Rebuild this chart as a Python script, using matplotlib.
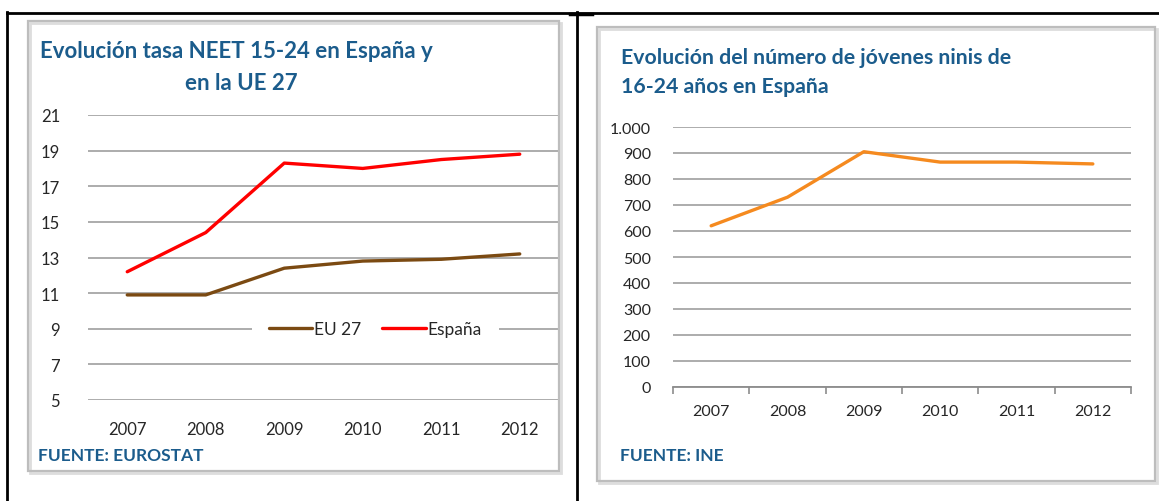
import matplotlib.pyplot as plt
import matplotlib.patches as mpatches
from matplotlib.lines import Line2D
from matplotlib.ticker import FuncFormatter

plt.rcParams['font.family'] = ['Lato', 'DejaVu Sans']

years = ['2007', '2008', '2009', '2010', '2011', '2012']
eu27 = [10.9, 10.9, 12.4, 12.8, 12.9, 13.2]
espana = [12.2, 14.4, 18.3, 18.0, 18.5, 18.8]
ninis = [620, 730, 905, 865, 865, 858]

W, H = 1159, 502
title_col = '#1B5C8C'
text_col = '#262626'
grid_col = '#A6A6A6'

fig = plt.figure(figsize=(W / 100, H / 100), dpi=100)


def px_axes(x0, y0, x1, y1):
    # pixel box (top-left origin) -> figure axes
    return fig.add_axes([x0 / W, 1 - y1 / H, (x1 - x0) / W, (y1 - y0) / H])


def box(x0, y0, x1, y1):
    fig.patches.append(mpatches.Rectangle((x0 / W + 0.002, 1 - y1 / H - 0.004), (x1 - x0) / W, (y1 - y0) / H,
                                          transform=fig.transFigure, fill=False, ec='#DDDDDD', lw=2))
    fig.patches.append(mpatches.Rectangle((x0 / W, 1 - y1 / H), (x1 - x0) / W, (y1 - y0) / H,
                                          transform=fig.transFigure, fill=False, ec='#BDBDBD', lw=1.6))


def fline(xs, ys, lw=2):
    fig.add_artist(Line2D([x / W for x in xs], [1 - y / H for y in ys], color='black', lw=lw,
                          transform=fig.transFigure))


# table borders
fline([7, W], [13.5, 13.5])
fline([7, 7], [13, H])
fline([577, 577], [13, H])
fline([570, 592], [14.5, 14.5], lw=2.5)

box(28, 22, 559, 472)
box(597, 28, 1155, 482)

# ---- left chart ----
ax1 = px_axes(88, 116, 559, 401)
x = range(len(years))
ax1.plot(x, eu27, color='#7B4A12', lw=2.4, label='EU 27', solid_capstyle='round')
ax1.plot(x, espana, color='#FF0000', lw=2.4, label='España', solid_capstyle='round')
ax1.set_xlim(-0.5, 5.5)
ax1.set_ylim(5, 21)
ax1.set_yticks(range(5, 22, 2))
ax1.set_xticks(list(x))
ax1.set_xticklabels(years)
ax1.grid(axis='y', color=grid_col, lw=1.3)
ax1.set_axisbelow(True)
for s in ax1.spines.values():
    s.set_visible(False)
ax1.tick_params(length=0, labelsize=12, colors=text_col)
ax1.tick_params(axis='y', pad=20)
ax1.tick_params(axis='x', pad=15)
leg = ax1.legend(ncol=2, loc='center', bbox_to_anchor=(0.61, 0.249), frameon=True, fontsize=12.5,
                 handlelength=2.5, handletextpad=0.1, columnspacing=1.2, borderpad=1.0)
leg.get_frame().set_facecolor('white')
leg.get_frame().set_edgecolor('none')
leg.get_frame().set_alpha(1)
for t in leg.get_texts():
    t.set_color(text_col)

fig.text(40 / W, 1 - 52 / H, 'Evolución tasa NEET 15-24 en España y', fontsize=16, fontweight='bold',
         color=title_col, va='center', ha='left')
fig.text(241 / W, 1 - 84 / H, 'en la UE 27', fontsize=16, fontweight='bold',
         color=title_col, va='center', ha='center')
fig.text(38 / W, 1 - 456 / H, 'FUENTE: EUROSTAT', fontsize=12.5, fontweight='bold',
         color=title_col, va='center', ha='left')

# ---- right chart ----
ax2 = px_axes(673, 128, 1131, 388)
ax2.plot(x, ninis, color='#F58A1F', lw=2.4, solid_capstyle='round')
ax2.set_xlim(-0.5, 5.5)
ax2.set_ylim(0, 1000)
ax2.set_yticks(range(0, 1001, 100))
ax2.yaxis.set_major_formatter(FuncFormatter(lambda v, p: f'{int(v):,}'.replace(',', '.')))
ax2.set_xticks(list(x))
ax2.set_xticklabels(years)
ax2.set_xticks([i - 0.5 for i in range(7)], minor=True)
ax2.grid(axis='y', color=grid_col, lw=1.3)
ax2.set_axisbelow(True)
for k in ['top', 'right', 'left']:
    ax2.spines[k].set_visible(False)
ax2.spines['bottom'].set_color('#8C8C8C')
ax2.spines['bottom'].set_linewidth(1.3)
ax2.tick_params(length=0, labelsize=11.5, colors=text_col)
ax2.tick_params(axis='x', which='minor', length=5, color='#8C8C8C', width=1.2)
ax2.tick_params(axis='y', pad=16)
ax2.tick_params(axis='x', pad=12)

fig.text(621 / W, 1 - 58 / H, 'Evolución del número de jóvenes ninis de', fontsize=15.3, fontweight='bold',
         color=title_col, va='center', ha='left')
fig.text(621 / W, 1 - 87 / H, '16-24 años en España', fontsize=15.3, fontweight='bold',
         color=title_col, va='center', ha='left')
fig.text(620 / W, 1 - 456 / H, 'FUENTE: INE', fontsize=12.5, fontweight='bold',
         color=title_col, va='center', ha='left')

fig.savefig('out.png', dpi=100)
